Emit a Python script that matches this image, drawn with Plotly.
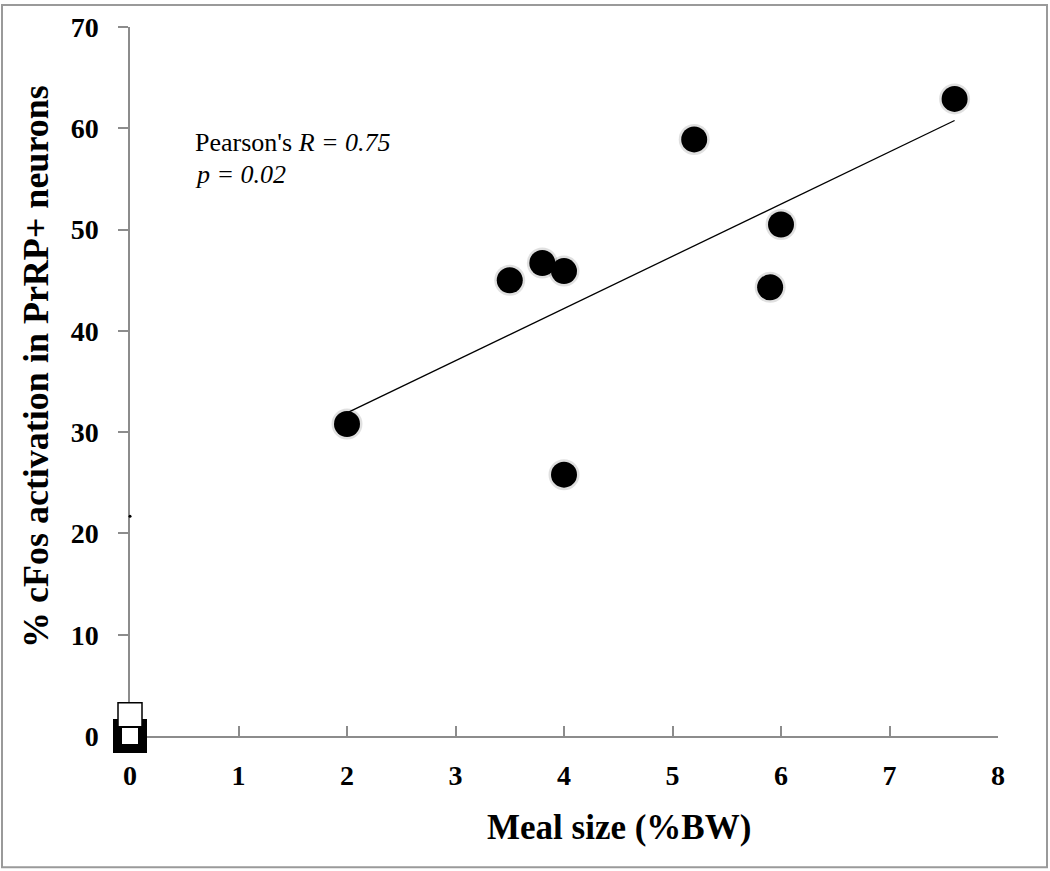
import numpy as np
import plotly.graph_objects as go

# Data
meal_size = [2.0, 3.5, 3.8, 4.0, 4.0, 5.2, 5.9, 6.0, 7.6]
cfos_pct = [30.8, 45.0, 46.7, 45.9, 25.8, 58.9, 44.3, 50.5, 62.9]

# control markers at origin (Excel artefacts)
ctrl_black_x = [0]
ctrl_black_y = [0]
ctrl_white_x = [0]
ctrl_white_y = [2.1]
stray_x = [0]
stray_y = [21.7]

x_ticks = [0, 1, 2, 3, 4, 5, 6, 7, 8]
y_ticks = [0, 10, 20, 30, 40, 50, 60, 70]

x_title = "<b>Meal size (%BW)</b>"
y_title = "<b>% cFos activation in PrRP+ neurons</b>"

slope, intercept = np.polyfit(meal_size, cfos_pct, 1)
fit_x = [min(meal_size), max(meal_size)]
fit_y = [slope * v + intercept for v in fit_x]

SERIF = "Liberation Serif, Times New Roman, serif"

W, H = 1050, 871
ML, MR, MT, MB = 130, 52, 23, 135
PW, PH = W - ML - MR, H - MT - MB

fig = go.Figure()

fig.add_trace(go.Scatter(x=fit_x, y=fit_y, mode="lines",
                         line=dict(color="black", width=1.3),
                         hoverinfo="skip", showlegend=False))
# soft shadow
fig.add_trace(go.Scatter(x=meal_size, y=cfos_pct, mode="markers",
                         marker=dict(size=31, color="rgba(0,0,0,0.12)", line=dict(width=0)),
                         hoverinfo="skip", showlegend=False, cliponaxis=False))
fig.add_trace(go.Scatter(x=meal_size, y=cfos_pct, mode="markers",
                         marker=dict(size=26, color="black", line=dict(width=0)),
                         showlegend=False, cliponaxis=False))
fig.add_trace(go.Scatter(x=ctrl_black_x, y=ctrl_black_y, mode="markers",
                         marker=dict(symbol="square", size=25, color="white",
                                     line=dict(color="black", width=9)),
                         showlegend=False, cliponaxis=False))
fig.add_trace(go.Scatter(x=ctrl_white_x, y=ctrl_white_y, mode="markers",
                         marker=dict(symbol="square", size=24, color="white",
                                     line=dict(color="black", width=1.5)),
                         showlegend=False, cliponaxis=False))
fig.add_trace(go.Scatter(x=stray_x, y=stray_y, mode="markers",
                         marker=dict(size=3, color="black"),
                         showlegend=False, cliponaxis=False))

fig.add_annotation(x=0.58, y=58.6, xref="x", yref="y", xanchor="left", yanchor="middle",
                   text="Pearson's <i>R = 0.75</i>", showarrow=False,
                   font=dict(family=SERIF, size=26, color="black"))
fig.add_annotation(x=0.58, y=55.4, xref="x", yref="y", xanchor="left", yanchor="middle",
                   text="<i>p = 0.02</i>", showarrow=False,
                   font=dict(family=SERIF, size=26, color="black"))

# axis titles (offset from centre as in the reference)
fig.add_annotation(x=(619 - ML) / PW, y=-(828 - (H - MB)) / PH, xref="paper", yref="paper",
                   xanchor="center", yanchor="middle", text=x_title, showarrow=False,
                   font=dict(family=SERIF, size=35, color="black"))
fig.add_annotation(x=(36 - ML) / PW, y=((H - MB) - 365) / PH, xref="paper", yref="paper",
                   xanchor="center", yanchor="middle", text=y_title, showarrow=False,
                   textangle=-90, font=dict(family=SERIF, size=36, color="black"))

fig.update_layout(
    width=W, height=H,
    margin=dict(l=ML, r=MR, t=MT, b=MB),
    paper_bgcolor="white", plot_bgcolor="white",
    font=dict(family=SERIF, color="black"),
    showlegend=False,
    shapes=[dict(type="rect", xref="paper", yref="paper",
                 x0=-(ML - 2) / PW, x1=1 + (MR - 3) / PW,
                 y0=-(MB - 3) / PH, y1=1 + (MT - 1) / PH,
                 line=dict(color="#9a9a9a", width=2), fillcolor="rgba(0,0,0,0)",
                 layer="below")],
)
fig.update_xaxes(range=[0, 8], tickvals=x_ticks, ticktext=[f"<b>{v}</b>" for v in x_ticks],
                 showgrid=False, zeroline=False, showline=True, linecolor="#8c8c8c", linewidth=1.5,
                 ticks="inside", ticklen=10, tickcolor="#8c8c8c", tickwidth=1.5,
                 ticklabelstandoff=14, layer="below traces",
                 tickfont=dict(family=SERIF, size=28, color="black"))
fig.update_yaxes(range=[0, 70], tickvals=y_ticks, ticktext=[f"<b>{v}</b>" for v in y_ticks],
                 showgrid=False, zeroline=False, showline=True, linecolor="#8c8c8c", linewidth=1.5,
                 ticks="outside", ticklen=10, tickcolor="#8c8c8c", tickwidth=1.5,
                 ticklabelstandoff=14, layer="below traces",
                 tickfont=dict(family=SERIF, size=28, color="black"))

fig.write_html("out.html", config={"displayModeBar": False},
               post_script="document.body.style.margin='0px';document.body.style.overflow='hidden';")
